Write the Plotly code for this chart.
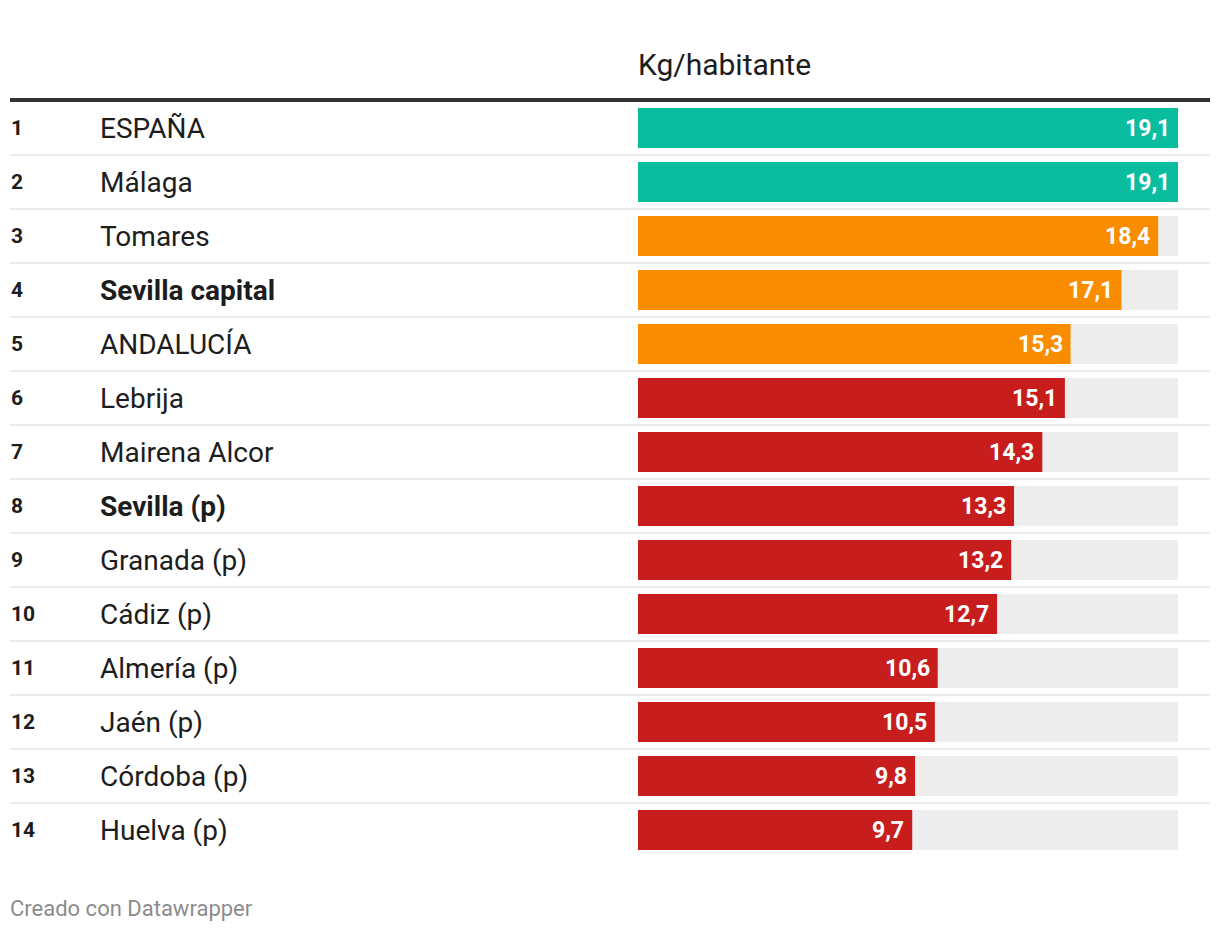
import plotly.graph_objects as go

ranks = ["1", "2", "3", "4", "5", "6", "7", "8", "9", "10", "11", "12", "13", "14"]
names = ["ESPAÑA", "Málaga", "Tomares", "Sevilla capital", "ANDALUCÍA", "Lebrija",
         "Mairena Alcor", "Sevilla (p)", "Granada (p)", "Cádiz (p)", "Almería (p)",
         "Jaén (p)", "Córdoba (p)", "Huelva (p)"]
values = [19.1, 19.1, 18.4, 17.1, 15.3, 15.1, 14.3, 13.3, 13.2, 12.7, 10.6, 10.5, 9.8, 9.7]
groups = ["teal", "teal", "orange", "orange", "orange", "red", "red", "red", "red",
          "red", "red", "red", "red", "red"]
bold_rows = ["Sevilla capital", "Sevilla (p)"]
header = "Kg/habitante"
footer = "Creado con Datawrapper"

palette = {"teal": "#0abd9f", "orange": "#fa8c00", "red": "#c71e1d"}

OFF = 8  # page body margin
W, H = 1220 - 2 * OFF, 932 - 2 * OFF


def px(v):
    return (v - OFF) / W


def py(v):
    return 1 - (v - OFF) / H


row_h = 54.0
first_center = 128.0 - OFF
n = len(values)
idx = list(range(n))
vmax = max(values)

y_top = -first_center / row_h
y_bot = (H - first_center) / row_h

fig = go.Figure()
fig.add_trace(go.Bar(
    x=[vmax] * n, y=idx, orientation="h", marker=dict(color="#ededed", line=dict(width=0)),
    width=40 / row_h, hoverinfo="skip", xaxis="x", yaxis="y"))
fig.add_trace(go.Bar(
    x=values, y=idx, orientation="h",
    marker=dict(color=[palette[g] for g in groups], line=dict(width=0)),
    width=40 / row_h, hoverinfo="skip", xaxis="x", yaxis="y"))

annotations = []
for i, (r, nm, v) in enumerate(zip(ranks, names, values)):
    annotations.append(dict(x=px(9), y=i, xref="paper", yref="y", text=f"<b>{r}</b>",
                            showarrow=False, xanchor="left", yanchor="middle",
                            font=dict(family="Roboto", size=21, color="#1d1d1d")))
    txt = f"<b>{nm}</b>" if nm in bold_rows else nm
    annotations.append(dict(x=px(98), y=i, xref="paper", yref="y", text=txt,
                            showarrow=False, xanchor="left", yanchor="middle",
                            font=dict(family="Roboto", size=28, color="#1d1d1d")))
    annotations.append(dict(x=v, y=i, xref="x", yref="y",
                            text="<b>" + f"{v:.1f}".replace(".", ",") + "</b>",
                            showarrow=False, xanchor="right", yanchor="middle", xshift=-6,
                            font=dict(family="Roboto", size=23, color="#ffffff")))

annotations.append(dict(x=px(636), y=py(64), xref="paper", yref="paper", text=header,
                        showarrow=False, xanchor="left", yanchor="middle",
                        font=dict(family="Roboto", size=30, color="#1d1d1d")))
annotations.append(dict(x=px(8), y=py(908), xref="paper", yref="paper", text=footer,
                        showarrow=False, xanchor="left", yanchor="middle",
                        font=dict(family="Roboto", size=22, color="#8c8c8c")))

shapes = [dict(type="line", xref="paper", yref="y", x0=px(10), x1=px(1210),
               y0=-0.52, y1=-0.52, line=dict(color="#333333", width=4), layer="above")]
for k in range(n - 1):
    shapes.append(dict(type="line", xref="paper", yref="y", x0=px(10), x1=px(1210),
                       y0=k + 0.5, y1=k + 0.5, line=dict(color="#ebebeb", width=2), layer="below"))

fig.update_layout(
    width=W, height=H, margin=dict(l=0, r=0, t=0, b=0),
    paper_bgcolor="#ffffff", plot_bgcolor="rgba(0,0,0,0)",
    barmode="overlay", showlegend=False,
    xaxis=dict(domain=[px(638), px(1178)], range=[0, vmax], visible=False, fixedrange=True),
    yaxis=dict(domain=[0, 1], range=[y_bot, y_top], visible=False, fixedrange=True),
    annotations=annotations, shapes=shapes,
)
fig.write_html("out.html", config={"displayModeBar": False})
